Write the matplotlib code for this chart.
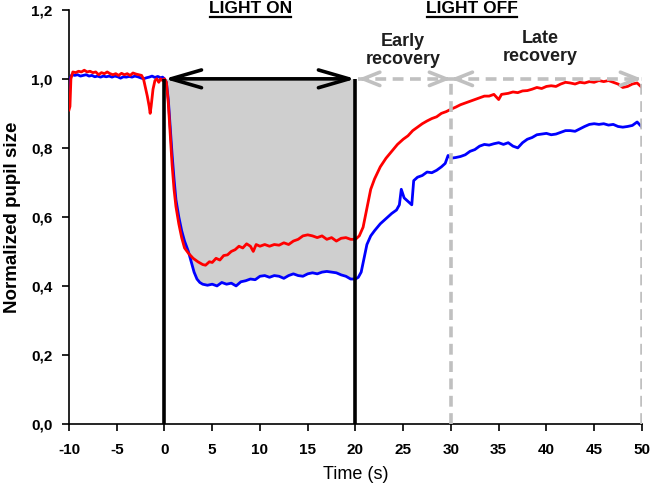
import matplotlib
matplotlib.use("Agg")
import matplotlib.pyplot as plt
from matplotlib.lines import Line2D
from matplotlib.ticker import FuncFormatter
import numpy as np

plt.rcParams['font.family'] = ['Liberation Sans', 'DejaVu Sans']
plt.rcParams['axes.unicode_minus'] = False

# red trace (time s, normalized size)
red_t = [-10.0, -9.9, -9.8, -9.6, -9.3, -9.0, -8.7, -8.4, -8.1, -7.8, -7.5, -7.2, -6.9, -6.6, -6.3,
         -6.0, -5.7, -5.4, -5.1, -4.8, -4.5, -4.2, -3.9, -3.6, -3.3, -3.0, -2.7, -2.4, -2.2, -2.0,
         -1.8, -1.6, -1.5, -1.4, -1.2, -1.0, -0.8, -0.6, -0.4, -0.2, 0.0, 0.2, 0.4, 0.6, 0.8,
         1.0, 1.2, 1.5, 1.8, 2.1, 2.5, 3.0, 3.5, 4.0, 4.3, 4.7, 5.0, 5.4, 5.8, 6.2,
         6.6, 7.0, 7.4, 7.8, 8.2, 8.6, 9.0, 9.3, 9.6, 10.0, 10.5, 11.0, 11.5, 12.0, 12.5,
         13.0, 13.5, 14.0, 14.5, 15.0, 15.5, 16.0, 16.5, 17.0, 17.5, 18.0, 18.5, 19.0, 19.5, 20.0,
         20.4, 20.8, 21.2, 21.6, 22.0, 22.6, 23.2, 23.8, 24.4, 25.0, 25.5, 26.0, 26.5, 27.0, 27.5,
         28.0, 28.5, 29.0, 29.5, 30.0, 30.5, 31.0, 31.5, 32.0, 32.5, 33.0, 33.5, 34.0, 34.5, 35.0,
         35.3, 36.0, 36.5, 37.0, 37.5, 38.0, 38.5, 39.0, 39.5, 40.0, 40.5, 41.0, 41.5, 42.0, 42.5,
         43.0, 43.5, 44.0, 44.5, 45.0, 45.5, 46.0, 46.5, 47.0, 47.5, 48.0, 48.5, 49.0, 49.5, 50.0]
red_v = [0.91, 0.92, 1.00, 1.02, 1.018, 1.022, 1.02, 1.025, 1.02, 1.022, 1.018, 1.02, 1.012, 1.018, 1.015,
         1.02, 1.015, 1.012, 1.015, 1.01, 1.016, 1.012, 1.015, 1.01, 1.017, 1.014, 1.012, 1.01, 1.0, 0.975,
         0.95, 0.92, 0.90, 0.92, 0.97, 0.995, 1.0, 0.99, 1.0, 0.995, 1.0, 0.99, 0.93, 0.84, 0.75,
         0.68, 0.63, 0.58, 0.54, 0.51, 0.495, 0.48, 0.47, 0.462, 0.46, 0.47, 0.468, 0.48, 0.475, 0.488,
         0.49, 0.5, 0.505, 0.515, 0.51, 0.522, 0.515, 0.5, 0.52, 0.515, 0.52, 0.515, 0.52, 0.518, 0.525,
         0.52, 0.53, 0.535, 0.545, 0.548, 0.545, 0.54, 0.545, 0.535, 0.54, 0.53, 0.538, 0.54, 0.535, 0.535,
         0.545, 0.57, 0.625, 0.68, 0.71, 0.745, 0.77, 0.79, 0.81, 0.825, 0.835, 0.85, 0.86, 0.87, 0.878,
         0.885, 0.89, 0.9, 0.905, 0.912, 0.918, 0.925, 0.93, 0.935, 0.94, 0.945, 0.95, 0.95, 0.955, 0.94,
         0.955, 0.958, 0.962, 0.96, 0.965, 0.966, 0.97, 0.975, 0.972, 0.978, 0.98, 0.978, 0.985, 0.99, 0.988,
         0.985, 0.99, 0.988, 0.992, 0.99, 0.995, 0.992, 0.995, 0.99, 0.985, 0.975, 0.978, 0.985, 0.988, 0.975]

# blue trace
blue_t = [-10.0, -9.9, -9.7, -9.4, -9.1, -8.8, -8.5, -8.2, -7.9, -7.6, -7.3, -7.0, -6.7, -6.4, -6.1,
          -5.8, -5.5, -5.2, -4.9, -4.6, -4.3, -4.0, -3.7, -3.4, -3.1, -2.8, -2.5, -2.2, -1.9, -1.6,
          -1.3, -1.0, -0.7, -0.4, -0.2, 0.0, 0.2, 0.4, 0.6, 0.8, 1.0, 1.2, 1.5, 1.8, 2.1,
          2.5, 2.8, 3.1, 3.4, 3.7, 4.0, 4.5, 5.0, 5.5, 6.0, 6.5, 7.0, 7.5, 8.0, 8.5,
          9.0, 9.5, 10.0, 10.5, 11.0, 11.5, 12.0, 12.5, 13.0, 13.5, 14.0, 14.5, 15.0, 15.5, 16.0,
          16.5, 17.0, 17.5, 18.0, 18.5, 19.0, 19.5, 20.0, 20.3, 20.6, 20.9, 21.2, 21.6, 22.0, 22.6,
          23.2, 23.8, 24.3, 24.6, 24.8, 25.1, 25.5, 25.9, 26.1, 26.5, 27.0, 27.5, 28.0, 28.5, 29.0,
          29.4, 29.7, 30.0, 30.5, 31.0, 31.5, 32.0, 32.5, 33.0, 33.5, 34.0, 34.5, 35.0, 35.5, 36.0,
          36.5, 37.0, 37.5, 38.0, 38.5, 39.0, 39.5, 40.0, 40.5, 41.0, 41.5, 42.0, 42.5, 43.0, 43.5,
          44.0, 44.5, 45.0, 45.5, 46.0, 46.5, 47.0, 47.5, 48.0, 48.5, 49.0, 49.5, 50.0]
blue_v = [0.95, 1.0, 1.012, 1.01, 1.012, 1.008, 1.01, 1.012, 1.008, 1.01, 1.006, 1.008, 1.005, 1.008, 1.006,
          1.008, 1.005, 1.008, 1.006, 1.002, 1.006, 1.005, 1.007, 1.005, 1.008, 1.006, 1.003, 1.0, 1.003, 1.005,
          1.008, 1.004, 1.007, 1.003, 1.005, 1.0, 0.99, 0.94, 0.86, 0.78, 0.71, 0.65, 0.6, 0.56, 0.53,
          0.5, 0.47, 0.44, 0.42, 0.41, 0.405, 0.402, 0.405, 0.4, 0.41, 0.405, 0.408, 0.4, 0.412, 0.415,
          0.42, 0.418, 0.428, 0.43, 0.425, 0.43, 0.428, 0.422, 0.43, 0.435, 0.43, 0.428, 0.435, 0.438, 0.435,
          0.44, 0.442, 0.44, 0.438, 0.432, 0.428, 0.42, 0.42, 0.425, 0.44, 0.48, 0.52, 0.545, 0.56, 0.58,
          0.595, 0.61, 0.62, 0.635, 0.68, 0.655, 0.645, 0.635, 0.705, 0.715, 0.72, 0.73, 0.728, 0.735, 0.745,
          0.755, 0.778, 0.77, 0.772, 0.775, 0.78, 0.79, 0.795, 0.805, 0.81, 0.808, 0.812, 0.815, 0.81, 0.815,
          0.805, 0.8, 0.815, 0.825, 0.83, 0.838, 0.84, 0.842, 0.838, 0.84, 0.845, 0.85, 0.85, 0.848, 0.855,
          0.862, 0.868, 0.87, 0.868, 0.87, 0.866, 0.868, 0.862, 0.86, 0.862, 0.865, 0.875, 0.86]

light_on = (0, 20)
early_end = 30
late_end = 50
xticks = list(range(-10, 55, 5))
yticks = [0.0, 0.2, 0.4, 0.6, 0.8, 1.0, 1.2]

fig = plt.figure(figsize=(6.54, 4.91), dpi=100)
ax = fig.add_axes([0.1055, 0.1365, 0.876, 0.8435])

bt = np.array(blue_t)
bv = np.array(blue_v)
m = (bt >= light_on[0]) & (bt <= light_on[1])
ax.fill_between(bt[m], bv[m], 1.0, color='#cfcfcf', lw=0, zorder=1)

ax.plot(blue_t, blue_v, color='#0000ff', lw=2.0, zorder=3)
ax.plot(red_t, red_v, color='#ff0000', lw=2.0, zorder=4)

gray = '#c0c0c0'
# light on: black verticals + double arrow
ax.vlines(light_on, 0, 1.0, color='black', lw=2.6, zorder=5)
ax.annotate('', xy=(light_on[0], 1.0), xytext=(light_on[1], 1.0),
            arrowprops=dict(arrowstyle='<->,head_length=1.1,head_width=0.32', mutation_scale=20,
                            color='black', lw=2.6, shrinkA=0, shrinkB=0), zorder=6)

# light off: grey dashed verticals + dashed arrows
ax.vlines([early_end, late_end], 0, 1.0, color=gray, lw=2.6, linestyles=(0, (3, 1.8)), zorder=5)
for a, b in [(light_on[1] + 0.3, early_end), (early_end, late_end)]:
    ax.plot([a, b], [1.0, 1.0], color=gray, lw=2.6, dashes=(3, 1.8), zorder=5)
    for p, q in [(a + 0.9, a), (b - 0.9, b)]:
        ax.annotate('', xy=(q, 1.0), xytext=(p, 1.0),
                    arrowprops=dict(arrowstyle='->,head_length=0.75,head_width=0.3', mutation_scale=16,
                                    color=gray, lw=2.6, shrinkA=0, shrinkB=0), zorder=5)

ax.set_xlim(-10, 50)
ax.set_ylim(0, 1.2)
ax.set_xticks(xticks)
ax.set_yticks(yticks)
ax.yaxis.set_major_formatter(FuncFormatter(lambda v, p: f'{v:.1f}'.replace('.', ',')))
for s in ['top', 'right']:
    ax.spines[s].set_visible(False)
for s in ['left', 'bottom']:
    ax.spines[s].set_linewidth(1.2)
ax.tick_params(axis='x', direction='out', length=5, width=1.2, pad=9, labelsize=11)
ax.tick_params(axis='y', direction='out', length=5, width=1.2, pad=7, labelsize=11)
for lab in ax.get_xticklabels() + ax.get_yticklabels():
    lab.set_fontweight('bold')

ax.set_xlabel('Time (s)', fontsize=13, labelpad=6)
ax.set_ylabel('Normalized pupil size', fontsize=13.5, fontweight='bold', labelpad=7)

t_on = ax.text(9.0, 1.205, 'LIGHT ON', ha='center', va='center', fontsize=12.5, fontweight='bold')
t_off = ax.text(32.2, 1.205, 'LIGHT OFF', ha='center', va='center', fontsize=12.5, fontweight='bold')
ax.text(25.0, 1.083, 'Early\nrecovery', ha='center', va='center', fontsize=13, fontweight='bold',
        color='#1e1e1e', linespacing=1.05)
ax.text(39.4, 1.09, 'Late\nrecovery', ha='center', va='center', fontsize=13, fontweight='bold',
        color='#1e1e1e', linespacing=1.05)

# underline the two headings
fig.canvas.draw()
r = fig.canvas.get_renderer()
for t in [t_on, t_off]:
    bb = t.get_window_extent(renderer=r)
    fig.add_artist(Line2D([bb.x0 + 1, bb.x1 - 1], [bb.y0 - 1, bb.y0 - 1], transform=None,
                          color='black', lw=1.6))

fig.savefig('out.png', dpi=100)
